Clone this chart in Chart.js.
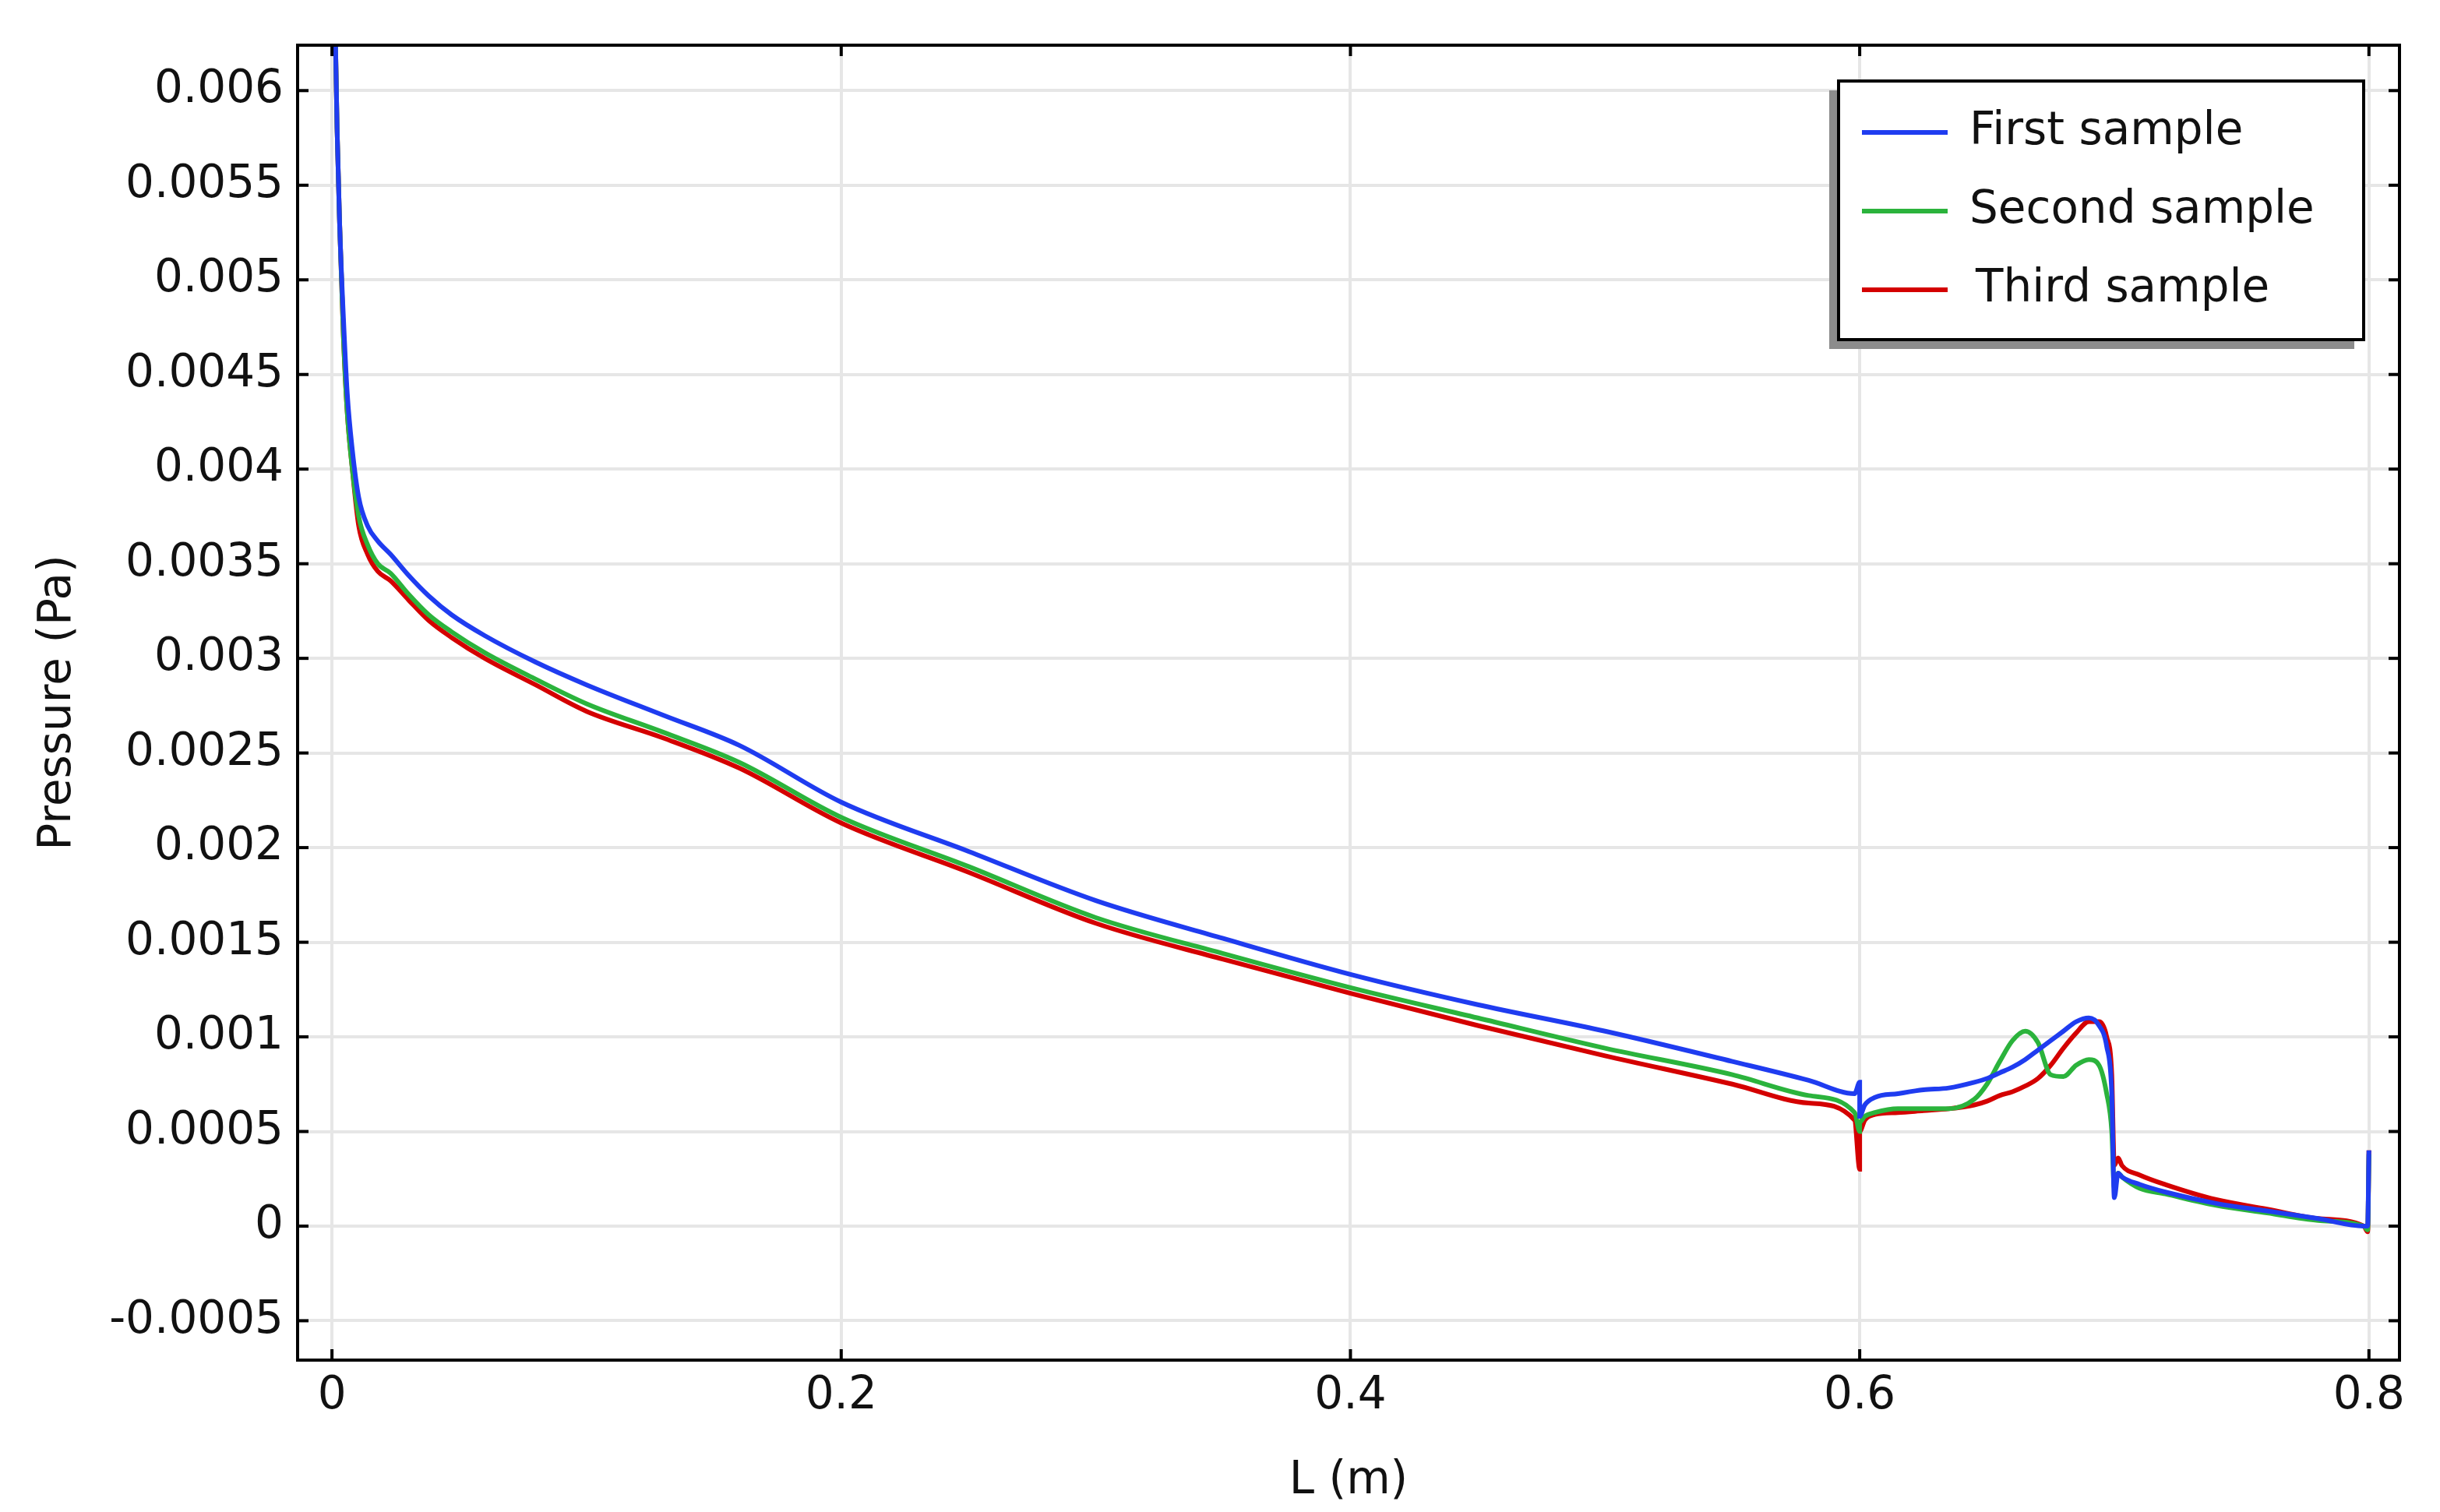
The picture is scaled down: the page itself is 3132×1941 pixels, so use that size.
<!DOCTYPE html>
<html>
<head>
<meta charset="utf-8">
<script src="https://cdn.jsdelivr.net/npm/chart.js@4.4.1/dist/chart.umd.min.js"></script>
<style>
  html, body { margin: 0; padding: 0; background: #fff; }
  #wrap { width: 3132px; height: 1941px; }
</style>
</head>
<body>
<div id="wrap"><canvas id="myChart"></canvas></div>
<script>
// datos
const labels = ['First sample', 'Second sample', 'Third sample']
const colors = ['#1f3cf0', '#2bb33c', '#d40000']

const xs = [0.0012, 0.002, 0.003, 0.0045, 0.006, 0.008, 0.0105, 0.014, 0.018, 0.023, 0.03, 0.038, 0.047, 0.06, 0.08, 0.1, 0.13, 0.16, 0.2, 0.25, 0.3, 0.35, 0.4, 0.45, 0.5, 0.55, 0.58, 0.598,
  0.6, 0.6, 0.602, 0.606, 0.615, 0.625, 0.635, 0.645, 0.65, 0.655, 0.66, 0.665, 0.67, 0.675, 0.68, 0.685, 0.69, 0.694, 0.697, 0.699,
  0.7, 0.7015, 0.703, 0.71, 0.72, 0.74, 0.76, 0.78, 0.798, 0.7995, 0.8]

const first = [0.0064, 0.0058, 0.0053, 0.0048, 0.0044, 0.0041, 0.00385, 0.0037, 0.00362, 0.00355, 0.00344, 0.00333, 0.00323, 0.00312, 0.00298, 0.00286, 0.0027, 0.00254, 0.00224, 0.00198, 0.00172, 0.00152, 0.00133, 0.00117, 0.00103, 0.00087, 0.00077, 0.0007,
  0.00076, 0.00058, 0.00064, 0.00068, 0.0007, 0.00072, 0.00073, 0.00076, 0.00078, 0.00081, 0.00084, 0.00088, 0.00093, 0.00098, 0.00103, 0.00108, 0.0011, 0.00106, 0.00095, 0.0007,
  0.00015, 0.00028, 0.00026, 0.00022, 0.00018, 0.00012, 0.00008, 0.00004, 0.00000, 0.0, 0.0004]

const second = [0.0064, 0.0058, 0.0053, 0.0047, 0.0043, 0.0040, 0.00375, 0.0036, 0.0035, 0.00345, 0.00334, 0.00323, 0.00314, 0.00303, 0.00289, 0.00276, 0.00261, 0.00245, 0.00216, 0.0019, 0.00163, 0.00144, 0.00126, 0.0011, 0.00094, 0.0008, 0.00069, 0.0006,
  0.0005, 0.00055, 0.00058, 0.0006, 0.00062, 0.00062, 0.00062, 0.00067, 0.00075, 0.00087, 0.00098, 0.00103, 0.00097, 0.0008, 0.00079, 0.00085, 0.00088, 0.00085, 0.0007, 0.0005,
  0.0002, 0.00028, 0.00026, 0.0002, 0.00017, 0.00011, 0.00007, 0.00003, 0.00000, -0.00002, 0.00038]

const third = [0.0064, 0.0058, 0.0053, 0.0047, 0.0043, 0.004, 0.0037, 0.00355, 0.00346, 0.00341, 0.00331, 0.0032, 0.00311, 0.003, 0.00286, 0.00272, 0.00258, 0.00242, 0.00213, 0.00187, 0.0016, 0.00141, 0.00123, 0.00106, 0.0009, 0.00075, 0.00065, 0.00056,
  0.0003, 0.0005, 0.00056, 0.00059, 0.0006, 0.00061, 0.00062, 0.00064, 0.00066, 0.00069, 0.00071, 0.00074, 0.00078, 0.00085, 0.00094, 0.00102, 0.00108, 0.00108, 0.001, 0.0008,
  0.00032, 0.00036, 0.00032, 0.00027, 0.00022, 0.00014, 0.00009, 0.00004, 0.00000, -0.00003, 0.0004]

const series = [first, second, third]

const fuente = 'DejaVu Sans'
const ctx = document.getElementById('myChart')

const datasets = series.map((ys, i) => ({
    label: labels[i],
    data: xs.map((x, j) => ({ x: x, y: ys[j] })),
    borderColor: colors[i],
    borderWidth: 6,
    pointRadius: 0,
    cubicInterpolationMode: 'monotone',
    fill: false
}))

// marcas de los ejes hacia adentro y leyenda con sombra
const extras = {
    id: 'extras',
    afterDraw(chart) {
        const c = chart.ctx, a = chart.chartArea
        const sx = chart.scales.x, sy = chart.scales.y
        c.save()
        c.strokeStyle = '#000'
        c.lineWidth = 4
        c.strokeRect(a.left, a.top, a.right - a.left, a.bottom - a.top)
        sx.ticks.forEach(t => {
            const p = sx.getPixelForValue(t.value)
            c.beginPath(); c.moveTo(p, a.bottom); c.lineTo(p, a.bottom - 14); c.stroke()
            c.beginPath(); c.moveTo(p, a.top); c.lineTo(p, a.top + 14); c.stroke()
        })
        sy.ticks.forEach(t => {
            const p = sy.getPixelForValue(t.value)
            c.beginPath(); c.moveTo(a.left, p); c.lineTo(a.left + 14, p); c.stroke()
            c.beginPath(); c.moveTo(a.right, p); c.lineTo(a.right - 14, p); c.stroke()
        })
        // leyenda
        const bx = 2360, by = 104, bw = 674, bh = 332
        c.fillStyle = '#8c8c8c'
        c.fillRect(bx - 12, by + 12, bw, bh)
        c.fillStyle = '#fff'
        c.fillRect(bx, by, bw, bh)
        c.strokeStyle = '#000'
        c.lineWidth = 4
        c.strokeRect(bx, by, bw, bh)
        c.font = '58px ' + fuente
        c.textBaseline = 'middle'
        labels.forEach((l, i) => {
            const y = 170 + i * 101
            c.strokeStyle = colors[i]
            c.lineWidth = 6
            c.beginPath(); c.moveTo(2390, y); c.lineTo(2500, y); c.stroke()
            c.fillStyle = '#111'
            c.fillText(l, i === 2 ? 2536 : 2528, y)
        })
        c.restore()
    }
}

new Chart(ctx, {
    type: 'line',
    data: { datasets },
    options: {
        responsive: true,
        maintainAspectRatio: false,
        animation: false,
        layout: { padding: { top: 58, right: 52, left: 0, bottom: 0 } },
        plugins: { legend: { display: false }, tooltip: { enabled: false } },
        scales: {
            x: {
                type: 'linear',
                min: -0.0135, max: 0.812,
                afterFit: s => { s.height = 1941 - 1746 },
                ticks: {
                    stepSize: 0.2, includeBounds: false,
                    color: '#111', font: { family: fuente, size: 58 }, padding: 12,
                    callback: v => String(parseFloat(v.toFixed(4)))
                },
                grid: { color: '#e6e6e6', lineWidth: 4, drawTicks: false },
                border: { display: false },
                title: { display: true, text: 'L (m)', color: '#111', font: { family: fuente, size: 58 }, padding: { top: 0 } }
            },
            y: {
                min: -0.000708, max: 0.00624,
                afterFit: s => { s.width = 382 },
                ticks: {
                    stepSize: 0.0005, includeBounds: false,
                    color: '#111', font: { family: fuente, size: 58 }, padding: 18,
                    callback: v => String(parseFloat(v.toFixed(5)))
                },
                grid: { color: '#e6e6e6', lineWidth: 4, drawTicks: false },
                border: { display: false },
                title: { display: true, text: 'Pressure (Pa)', color: '#111', font: { family: fuente, size: 58 }, padding: { top: 40, bottom: 10 } }
            }
        }
    },
    plugins: [extras]
})
</script>
</body>
</html>
